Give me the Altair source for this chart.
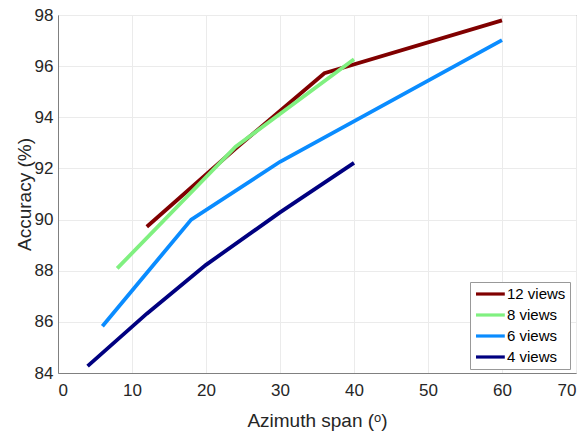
import altair as alt
import pandas as pd

series_names = ["12 views", "8 views", "6 views", "4 views"]
colors = ["#800000", "#80f080", "#0a8cff", "#000080"]

x_12 = [12, 24, 36, 60]
y_12 = [89.72, 92.78, 95.72, 97.79]
x_8 = [8, 24, 40]
y_8 = [88.09, 92.85, 96.27]
x_6 = [6, 18, 30, 60]
y_6 = [85.83, 90.0, 92.26, 97.02]
x_4 = [4, 12, 20, 30, 40]
y_4 = [84.27, 86.32, 88.23, 90.28, 92.22]

rows = []
for name, xs, ys in [("12 views", x_12, y_12), ("8 views", x_8, y_8),
                     ("6 views", x_6, y_6), ("4 views", x_4, y_4)]:
    for i, (a, b) in enumerate(zip(xs, ys)):
        rows.append({"series": name, "span": a, "acc": b, "order": i})
df = pd.DataFrame(rows)

font = "Liberation Sans"

chart = alt.Chart(df).mark_line(strokeWidth=3.8, strokeCap="butt", strokeJoin="miter").encode(
    x=alt.X("span:Q", scale=alt.Scale(domain=[0, 70], nice=False),
            axis=alt.Axis(values=list(range(0, 71, 10)), title="Azimuth span (ᵒ)",
                          labelPadding=9, titlePadding=13)),
    y=alt.Y("acc:Q", scale=alt.Scale(domain=[84, 98], nice=False, zero=False),
            axis=alt.Axis(values=list(range(84, 99, 2)), title="Accuracy (%)",
                          labelPadding=5, titlePadding=0)),
    color=alt.Color("series:N",
                    scale=alt.Scale(domain=series_names, range=colors),
                    legend=alt.Legend(title=None, orient="none", legendX=412, legendY=267,
                                      symbolType="M-1,0H3.8", symbolSize=144,
                                      symbolStrokeWidth=3.2, labelFontSize=15,
                                      labelFont=font, labelColor="#000000",
                                      strokeColor="#999999", fillColor="white",
                                      padding=4, rowPadding=5, labelOffset=17)),
    order="order:Q",
    detail="series:N",
).properties(
    width=518, height=358,
    autosize=alt.AutoSizeParams(type="none"),
    padding={"left": 58, "top": 15, "right": 11, "bottom": 61},
).configure_axis(
    grid=True, gridColor="#ebebeb", gridWidth=1,
    domainColor="#808080", domainWidth=1,
    ticks=False,
    labelFont=font, labelFontSize=17, labelColor="#262626",
    titleFont=font, titleFontSize=19, titleFontWeight="normal", titleColor="#262626",
).configure_view(
    stroke="#808080", strokeWidth=1,
)

chart.save("out.html", embed_options={"renderer": "svg", "actions": False})
